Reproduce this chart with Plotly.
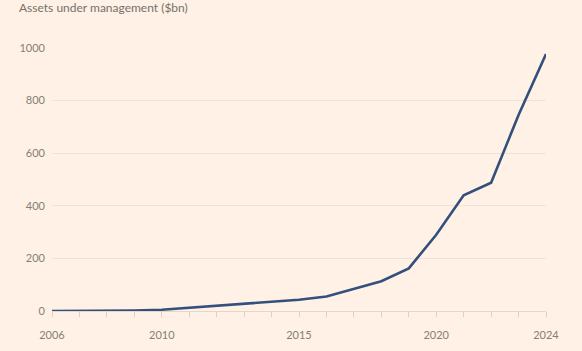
import plotly.graph_objects as go

years = list(range(2006, 2025))
aum = [0, 0, 1, 2, 5, 12, 21, 28, 35, 43, 55, 85, 113, 162, 290, 440, 488, 745, 977]
x_labels = [2006, 2010, 2015, 2020, 2024]
y_ticks = [0, 200, 400, 600, 800, 1000]

bg = "#FFF1E5"
fig = go.Figure()
fig.add_trace(go.Scatter(x=years, y=aum, mode="lines",
                         line=dict(color="#33507D", width=2.6), hoverinfo="skip"))

fig.update_layout(
    width=582, height=351,
    margin=dict(l=52, r=36, t=48, b=40),
    paper_bgcolor=bg, plot_bgcolor=bg,
    showlegend=False,
    font=dict(family="Lato, sans-serif", size=11, color="#857E78"),
    annotations=[dict(text="Assets under management ($bn)", xref="paper", yref="paper",
                      x=-0.07, y=1.0, yshift=50, xanchor="left", yanchor="top",
                      showarrow=False, font=dict(size=12, color="#77706B"))],
)
fig.update_xaxes(range=[2006, 2024], tickvals=years,
                 ticktext=[str(y) if y in x_labels else "" for y in years],
                 showgrid=False, zeroline=False, showline=False, automargin=False,
                 ticks="outside", ticklen=5, tickcolor="#DDD0C4", tickwidth=1,
                 ticklabelstandoff=9)
fig.update_yaxes(range=[0, 1000], tickvals=y_ticks, showgrid=True, gridcolor="#F1E2D6",
                 gridwidth=1, zeroline=True, zerolinecolor="#E3D6CA", zerolinewidth=1,
                 showline=False, ticks="", ticklabelstandoff=6, automargin=False)

fig.write_html("out.html")
